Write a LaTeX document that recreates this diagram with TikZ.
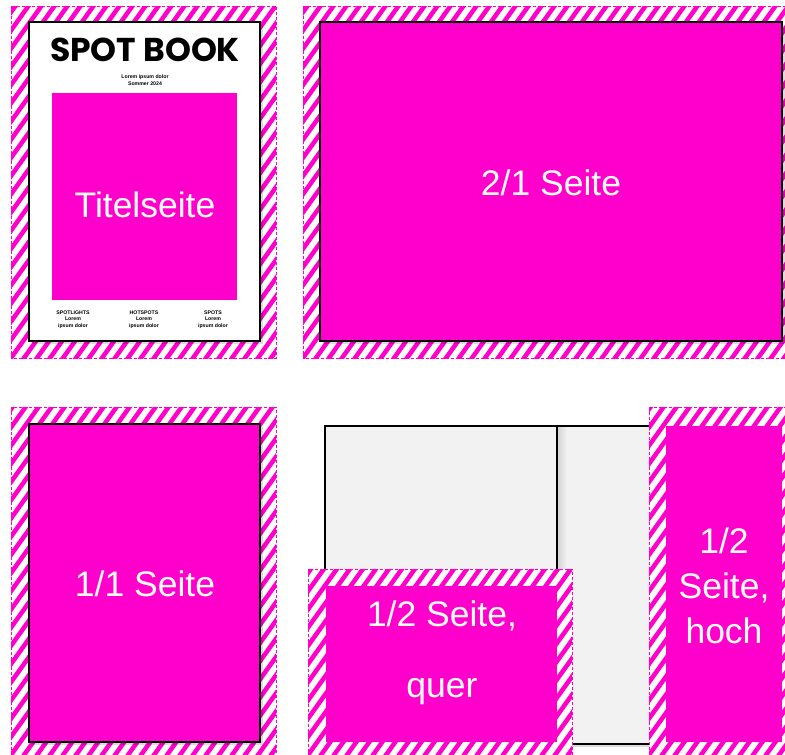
\documentclass[tikz,border=0pt]{standalone}
\usepackage{fontspec}
\setmainfont{Liberation Sans}
\newfontfamily\popfont{Poppins}
\usetikzlibrary{shadows}
\definecolor{mag}{HTML}{FF00CC}
\definecolor{pagegray}{HTML}{F2F2F2}
\tikzset{
  stripeline/.style={draw=mag, line width=4.5pt},
  hatchedge/.style={draw=mag, line width=0.7pt, dash pattern=on 3pt off 2pt},
  blackframe/.style={draw=black, line width=2.4pt},
  softshadow/.style={drop shadow={shadow xshift=2.5pt, shadow yshift=-3pt, opacity=0.14, fill=black}},
  biglabel/.style={text=white, font=\fontsize{35.5}{45}\selectfont, align=center},
  biglabelbase/.style={text=white, font=\fontsize{35.5}{45}\selectfont, anchor=base, inner sep=0pt},
  tinybold/.style={font=\bfseries\fontsize{5.2}{6.6}\selectfont, align=center, inner sep=0pt},
  tinyline/.style={font=\bfseries\fontsize{5.2}{5.6}\selectfont, anchor=base, inner sep=0pt},
}
\newcommand\stripebox[4]{%
  \begin{scope}
    \clip (#1,#2) rectangle (#3,#4);
    \fill[white] (#1,#2) rectangle (#3,#4);
    \foreach \k in {-32,...,42} {
      \draw[stripeline] (#1+\k*13-300,#4+420) -- (#1+\k*13+300,#4-420);
    }
  \end{scope}
  \draw[hatchedge] (#1,#2) rectangle (#3,#4);
}
\begin{document}
\begin{tikzpicture}[x=1pt,y=-1pt]
\useasboundingbox (0,0) rectangle (785,755);
\fill[white] (0,0) rectangle (785,755);

% ---------- Panel 1: Titelseite ----------
\stripebox{11}{6}{276}{358}
\filldraw[fill=white, blackframe, softshadow] (29,22) rectangle (260,341);
\node[font=\popfont\bfseries\fontsize{33}{34}\selectfont, inner sep=0pt, anchor=base] (title) at (145,61.5) {SPOT BOOK};
\node[tinyline] (subA) at (145,78.5) {Lorem ipsum dolor};
\node[tinyline] (subB) at (145,85) {Sommer 2024};
\fill[mag] (52,93) rectangle (237,300);
\node[biglabel] (titelseite) at (145,205) {Titelseite};
\node[tinybold] (col1) at (73,319.5) {SPOTLIGHTS\\Lorem\\ipsum dolor};
\node[tinybold] (col2) at (144,319.5) {HOTSPOTS\\Lorem\\ipsum dolor};
\node[tinybold] (col3) at (213,319.5) {SPOTS\\Lorem\\ipsum dolor};

% ---------- Panel 2: 2/1 Seite ----------
\stripebox{303}{6}{785}{358}
\filldraw[fill=mag, blackframe, softshadow] (320,22) rectangle (782,341);
\node[biglabel] (zweieins) at (551,183) {2/1 Seite};

% ---------- Panel 3: 1/1 Seite ----------
\stripebox{11}{407}{276}{755}
\filldraw[fill=mag, blackframe, softshadow] (29,424) rectangle (260,742);
\node[biglabel] (einseins) at (145,584) {1/1 Seite};

% ---------- Panel 4: halbe Seiten ----------
\filldraw[fill=pagegray, blackframe, softshadow] (325,426) rectangle (557,744);
\filldraw[fill=pagegray, blackframe, softshadow] (557,426) rectangle (790,744);
\shade[left color=black!16, right color=pagegray] (558.3,427.3) rectangle (567,742.7);

\stripebox{649}{407}{785}{755}
\fill[mag] (666,426) rectangle (782,742);
\node[biglabelbase] (hochA) at (724,553) {1/2};
\node[biglabelbase] (hochB) at (724,598) {Seite,};
\node[biglabelbase] (hochC) at (724,643) {hoch};

\stripebox{308}{569}{572}{755}
\fill[mag] (326,586) rectangle (557,742);
\node[biglabelbase] (querA) at (442,626) {1/2 Seite,};
\node[biglabelbase] (querB) at (442,697) {quer};
\end{tikzpicture}
\end{document}
